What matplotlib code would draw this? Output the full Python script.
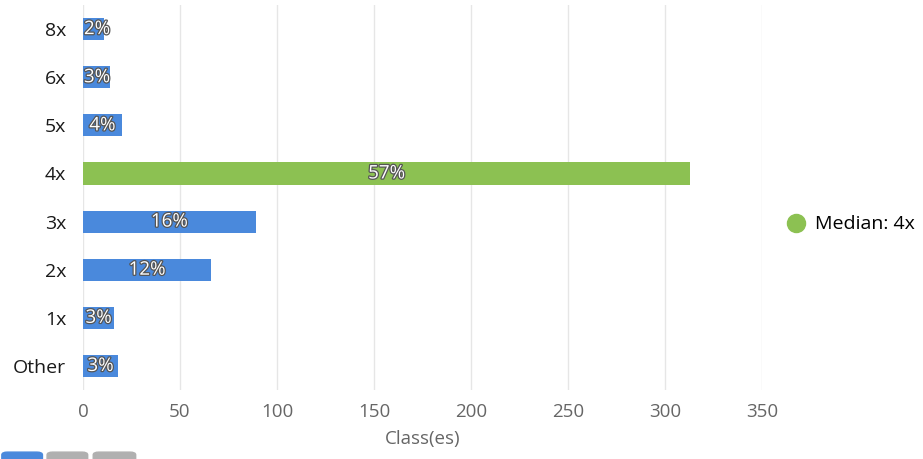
import matplotlib
matplotlib.use("Agg")
import matplotlib.pyplot as plt
import matplotlib.patheffects as pe
from matplotlib.lines import Line2D
from matplotlib.patches import FancyBboxPatch

# data
categories = ["8x", "6x", "5x", "4x", "3x", "2x", "1x", "Other"]
counts = [11, 14, 20, 313, 89, 66, 16, 18]
median_label = "4x"
x_ticks = [0, 50, 100, 150, 200, 250, 300, 350]

blue = "#4A89DC"
green = "#8CC152"

plt.rcParams["font.family"] = ["Open Sans", "DejaVu Sans"]

fig = plt.figure(figsize=(9.23, 4.59), dpi=100)
ax = fig.add_axes([0.0899, 0.1503, 0.7357, 0.8387])

total = sum(counts)
ypos = list(range(len(categories)))
colors = [green if c == median_label else blue for c in categories]
ax.barh(ypos, counts, height=0.46, color=colors, zorder=3)

for y, v in zip(ypos, counts):
    pct = f"{round(100 * v / total)}%"
    ax.text(max(v / 2, 7.2), y, pct, ha="center", va="center",
            fontsize=13.5, color="white", zorder=4,
            path_effects=[pe.withStroke(linewidth=1.8, foreground="#555555")])

ax.set_ylim(len(categories) - 0.5, -0.5)
ax.set_xlim(0, 350)
ax.set_yticks(ypos)
ax.set_yticklabels(categories, fontsize=14, color="#1a1a1a")
ax.set_xticks(x_ticks)
ax.set_xticklabels([str(t) for t in x_ticks], fontsize=13.5, color="#666666")
ax.tick_params(axis="both", length=0)
ax.tick_params(axis="y", pad=12)
ax.tick_params(axis="x", pad=9)
ax.grid(axis="x", color="#e6e6e6", linewidth=1, zorder=0)
for s in ax.spines.values():
    s.set_visible(False)
ax.set_xlabel("Class(es)", fontsize=13.5, color="#666666", labelpad=7)

handle = Line2D([], [], marker="o", linestyle="", markersize=13,
                markerfacecolor=green, markeredgecolor=green)
ax.legend([handle], [f"Median: {median_label}"], loc="center left",
          bbox_to_anchor=(1.01, 0.43), frameon=False, fontsize=14,
          handletextpad=0.0, borderaxespad=0)

# small buttons peeking at the bottom left
for x0, w, c in [(0.002, 0.044, blue), (0.051, 0.044, "#b0b0b0"), (0.101, 0.046, "#b0b0b0")]:
    fig.patches.append(FancyBboxPatch((x0, -0.01), w, 0.025,
                                      boxstyle="round,pad=0,rounding_size=0.006",
                                      transform=fig.transFigure, color=c))

fig.savefig("out.png", dpi=100)
